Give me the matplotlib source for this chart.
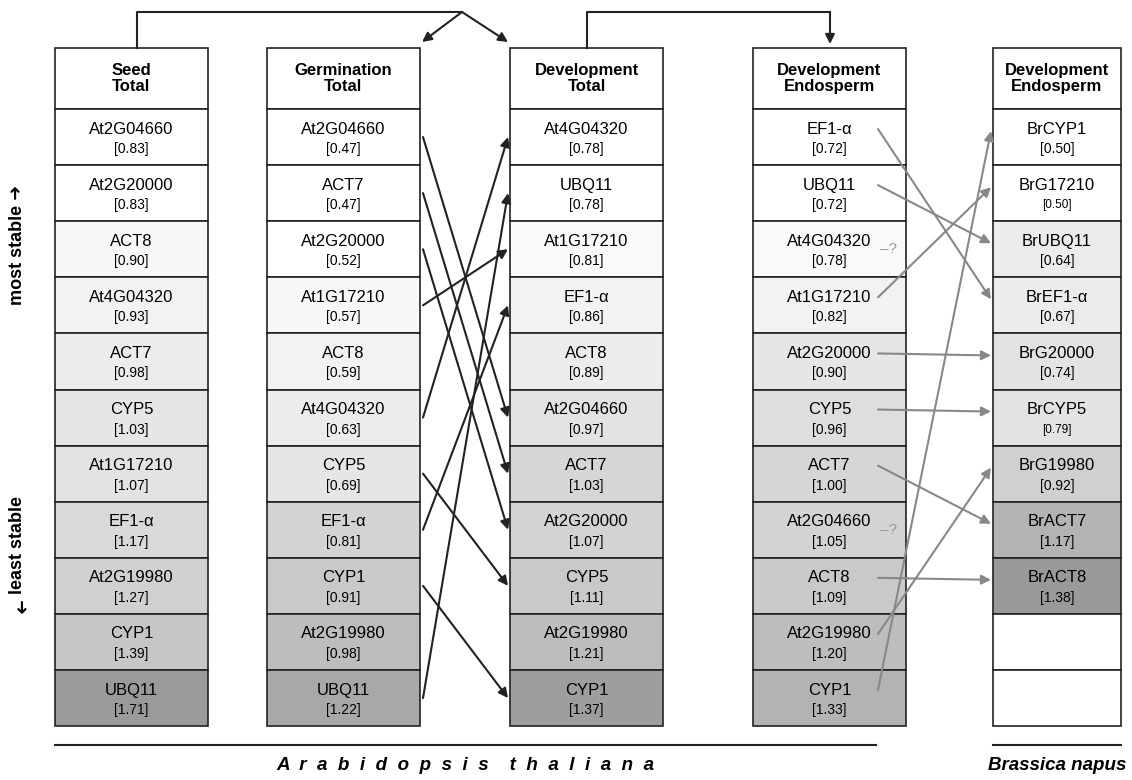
import matplotlib.pyplot as plt
from matplotlib.patches import Rectangle

plt.rcParams['font.family'] = ['Liberation Sans', 'DejaVu Sans']

# column data
seed_genes = ['At2G04660', 'At2G20000', 'ACT8', 'At4G04320', 'ACT7', 'CYP5',
              'At1G17210', 'EF1-α', 'At2G19980', 'CYP1', 'UBQ11']
seed_vals = [0.83, 0.83, 0.90, 0.93, 0.98, 1.03, 1.07, 1.17, 1.27, 1.39, 1.71]
germ_genes = ['At2G04660', 'ACT7', 'At2G20000', 'At1G17210', 'ACT8', 'At4G04320',
              'CYP5', 'EF1-α', 'CYP1', 'At2G19980', 'UBQ11']
germ_vals = [0.47, 0.47, 0.52, 0.57, 0.59, 0.63, 0.69, 0.81, 0.91, 0.98, 1.22]
dev_genes = ['At4G04320', 'UBQ11', 'At1G17210', 'EF1-α', 'ACT8', 'At2G04660',
             'ACT7', 'At2G20000', 'CYP5', 'At2G19980', 'CYP1']
dev_vals = [0.78, 0.78, 0.81, 0.86, 0.89, 0.97, 1.03, 1.07, 1.11, 1.21, 1.37]
endo_genes = ['EF1-α', 'UBQ11', 'At4G04320', 'At1G17210', 'At2G20000', 'CYP5',
              'ACT7', 'At2G04660', 'ACT8', 'At2G19980', 'CYP1']
endo_vals = [0.72, 0.72, 0.78, 0.82, 0.90, 0.96, 1.00, 1.05, 1.09, 1.20, 1.33]
br_genes = ['BrCYP1', 'BrG17210', 'BrUBQ11', 'BrEF1-α', 'BrG20000', 'BrCYP5',
            'BrG19980', 'BrACT7', 'BrACT8']
br_vals = [0.50, 0.50, 0.64, 0.67, 0.74, 0.79, 0.92, 1.17, 1.38]
br_small = [1, 5]
# endosperm gene -> Brassica row (None = "?")
endo_to_br = {'EF1-α': 3, 'UBQ11': 2, 'At4G04320': None, 'At1G17210': 1,
              'At2G20000': 4, 'CYP5': 5, 'ACT7': 7, 'At2G04660': None,
              'ACT8': 8, 'At2G19980': 6, 'CYP1': 0}

# per-cell gray shades
seed_shade = ['#ffffff', '#ffffff', '#f7f7f7', '#f2f2f2', '#ececec', '#e6e6e6',
              '#e3e3e3', '#d9d9d9', '#d0d0d0', '#c6c6c6', '#9a9a9a']
germ_shade = ['#ffffff', '#ffffff', '#ffffff', '#f7f7f7', '#f2f2f2', '#ececec',
              '#e6e6e6', '#d3d3d3', '#c9c9c9', '#bdbdbd', '#a8a8a8']
dev_shade = ['#ffffff', '#ffffff', '#f9f9f9', '#f2f2f2', '#ececec', '#e3e3e3',
             '#d6d6d6', '#d3d3d3', '#c9c9c9', '#bdbdbd', '#9e9e9e']
endo_shade = ['#ffffff', '#ffffff', '#f9f9f9', '#f2f2f2', '#e6e6e6', '#dedede',
              '#d6d6d6', '#d3d3d3', '#c9c9c9', '#bdbdbd', '#b3b3b3']
br_shade = ['#ffffff', '#ffffff', '#ececec', '#ececec', '#e3e3e3', '#e3e3e3',
            '#d0d0d0', '#b3b3b3', '#999999', '#ffffff', '#ffffff']

W, H = 1132, 780
fig = plt.figure(figsize=(W / 100, H / 100), dpi=100)
ax = fig.add_axes([0, 0, 1, 1])
ax.set_xlim(0, W)
ax.set_ylim(H, 0)
ax.axis('off')

top, head_h, row_h = 48, 61, 56.1
r0 = top + head_h


def row_y(i):
    return r0 + i * row_h + row_h / 2


def draw_col(x0, x1, title, genes, vals, shades, n=11, small=()):
    ax.add_patch(Rectangle((x0, top), x1 - x0, head_h, fc='white', ec='#222', lw=1.2))
    ax.text((x0 + x1) / 2, top + head_h / 2, title, ha='center', va='center',
            fontsize=12, fontweight='bold', linespacing=1.15)
    for i in range(n):
        ax.add_patch(Rectangle((x0, r0 + i * row_h), x1 - x0, row_h,
                               fc=shades[i], ec='#222', lw=1.2))
        if i < len(genes):
            cx = (x0 + x1) / 2
            ax.text(cx, row_y(i) - 8, genes[i], ha='center', va='center', fontsize=12)
            ax.text(cx, row_y(i) + 12, '[%.2f]' % vals[i], ha='center', va='center',
                    fontsize=8.5 if i in small else 10)


draw_col(55, 208, 'Seed\nTotal', seed_genes, seed_vals, seed_shade)
draw_col(267, 420, 'Germination\nTotal', germ_genes, germ_vals, germ_shade)
draw_col(510, 663, 'Development\nTotal', dev_genes, dev_vals, dev_shade)
draw_col(753, 906, 'Development\nEndosperm', endo_genes, endo_vals, endo_shade)
draw_col(993, 1121, 'Development\nEndosperm', br_genes, br_vals, br_shade, small=br_small)

# germination -> development arrows
for i, g in enumerate(germ_genes):
    j = dev_genes.index(g)
    if i == j:
        continue
    ax.annotate('', xy=(508, row_y(j)), xytext=(423, row_y(i)),
                arrowprops=dict(arrowstyle='-|>', color='#222', lw=1.5,
                                mutation_scale=14, shrinkA=0, shrinkB=0))

# endosperm -> Brassica arrows
for i, g in enumerate(endo_genes):
    j = endo_to_br[g]
    if j is None:
        ax.text(880, row_y(i), '–?', color='#999', fontsize=11, va='center')
        continue
    ax.annotate('', xy=(991, row_y(j) - 6), xytext=(878, row_y(i) - 8),
                arrowprops=dict(arrowstyle='-|>', color='#888', lw=1.5,
                                mutation_scale=14, shrinkA=0, shrinkB=0))

# top connectors
ax.plot([137, 137, 462], [48, 12, 12], color='#222', lw=1.5)
for tx in (422, 508):
    ax.annotate('', xy=(tx, 42), xytext=(462, 12),
                arrowprops=dict(arrowstyle='-|>', color='#222', lw=1.5,
                                mutation_scale=14, shrinkA=0, shrinkB=0))
ax.plot([587, 587, 830], [48, 12, 12], color='#222', lw=1.5)
ax.annotate('', xy=(830, 44), xytext=(830, 12),
            arrowprops=dict(arrowstyle='-|>', color='#222', lw=1.5,
                            mutation_scale=14, shrinkA=0, shrinkB=0))

# side labels
ax.text(18, 245, 'most stable ➜', rotation=90, ha='center', va='center',
        fontsize=13, fontweight='bold')
ax.text(18, 545, 'least stable', rotation=90, ha='center', va='center',
        fontsize=13, fontweight='bold')
ax.text(18, 608, '➜', rotation=-90, ha='center', va='center',
        fontsize=13, fontweight='bold')

# species labels
ax.plot([55, 876], [745, 745], color='#222', lw=1.5)
ax.text(465, 766, '  '.join('Arabidopsis') + '    ' + '  '.join('thaliana'),
        ha='center', va='center', fontsize=13.5, fontweight='bold', style='italic')
ax.plot([993, 1121], [745, 745], color='#222', lw=1.5)
ax.text(1057, 766, 'Brassica napus', ha='center', va='center', fontsize=13.5,
        fontweight='bold', style='italic')

fig.savefig('out.png', dpi=100)
